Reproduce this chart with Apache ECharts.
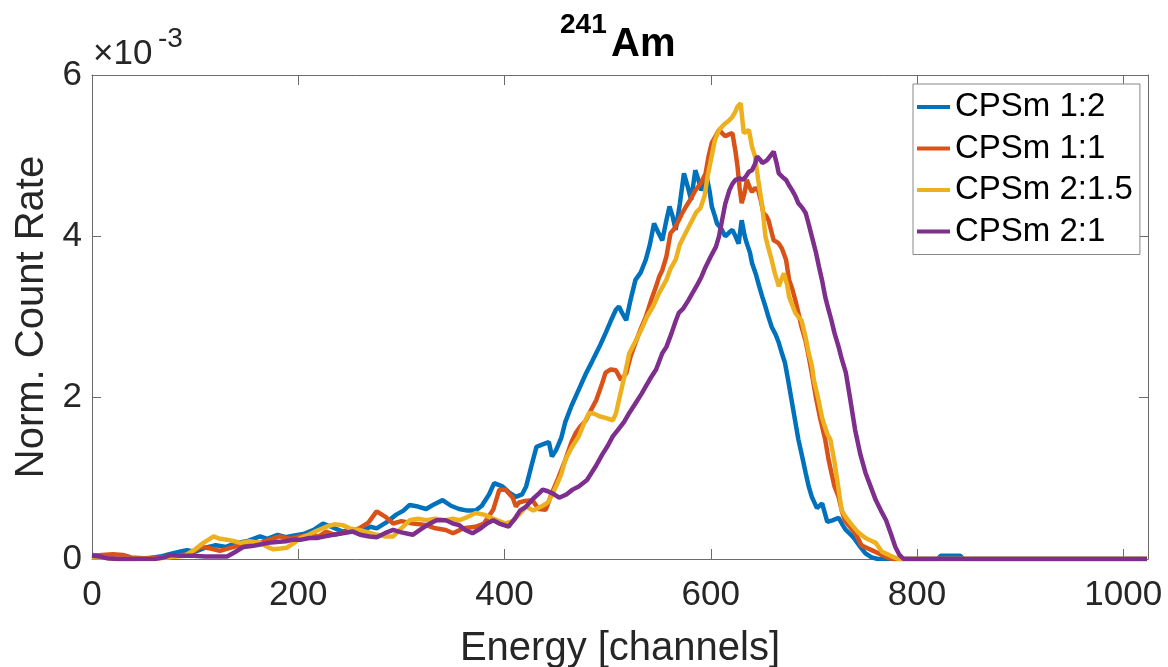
<!DOCTYPE html>
<html>
<head>
<meta charset="utf-8">
<title>241Am</title>
<script src="https://cdn.jsdelivr.net/npm/echarts@6/dist/echarts.min.js"></script>
<style>
  html, body { margin: 0; padding: 0; background: #fff; }
  #chart { width: 1168px; height: 667px; }
</style>
</head>
<body>
<div id="chart"></div>
<script>
// 数值单位: ×10^-3 (norm. count rate), x = channel
const xTicks = [0, 200, 400, 600, 800, 1000]
const yTicks = [0, 2, 4, 6]
const seriesNames = ['CPSm 1:2', 'CPSm 1:1', 'CPSm 2:1.5', 'CPSm 2:1']

const cps12 = [
  [0, 0.05], [8, 0.04], [15, 0.02], [25, 0], [40, 0], [55, 0.01], [66, 0.03], [75, 0.06], [85, 0.09],
  [92, 0.11], [100, 0.09], [110, 0.14], [120, 0.17], [130, 0.15], [140, 0.2], [150, 0.22], [163, 0.28],
  [170, 0.25], [180, 0.3], [188, 0.27], [195, 0.29], [205, 0.31], [215, 0.36], [224, 0.44], [232, 0.4],
  [243, 0.34], [252, 0.37], [262, 0.35], [270, 0.4], [276, 0.38], [285, 0.45], [295, 0.55], [302, 0.6],
  [308, 0.67], [316, 0.65], [324, 0.62], [332, 0.68], [340, 0.73], [348, 0.66], [356, 0.62], [364, 0.6],
  [372, 0.6], [378, 0.66], [385, 0.8], [390, 0.94], [398, 0.9], [405, 0.82], [411, 0.77], [417, 0.8],
  [421, 0.9], [426, 1.15], [431, 1.39], [437, 1.42], [443, 1.45], [446, 1.27], [450, 1.35], [455, 1.5],
  [459, 1.7], [465, 1.9], [472, 2.1], [479, 2.3], [485, 2.45], [492, 2.63], [498, 2.8], [503, 2.95],
  [508, 3.09], [511, 3.13], [514, 3.05], [518, 2.96], [522, 3.2], [527, 3.46], [532, 3.55], [537, 3.71],
  [541, 3.9], [545, 4.16], [549, 4.05], [553, 3.95], [557, 4.2], [560, 4.37], [563, 4.25], [566, 4.08],
  [570, 4.4], [574, 4.78], [578, 4.6], [581, 4.45], [585, 4.82], [588, 4.7], [591, 4.57], [594, 4.65],
  [596, 4.74], [599, 4.55], [601, 4.37], [604, 4.25], [606, 4.16], [610, 4.1], [614, 4.0], [618, 4.05],
  [621, 4.08], [624, 4.0], [627, 3.91], [630, 4.2], [633, 4.0], [635, 3.91], [638, 3.8], [640, 3.67],
  [644, 3.52], [647, 3.38], [650, 3.25], [653, 3.13], [656, 3.0], [659, 2.88], [663, 2.78], [666, 2.68],
  [669, 2.55], [672, 2.43], [675, 2.22], [680, 1.85], [685, 1.48], [689, 1.25], [692, 1.07], [695, 0.9],
  [698, 0.77], [703, 0.63], [708, 0.69], [713, 0.46], [718, 0.48], [724, 0.51], [728, 0.42], [731, 0.36],
  [736, 0.3], [740, 0.24], [745, 0.15], [750, 0.07], [756, 0.02], [762, 0], [820, 0], [823, 0.04],
  [842, 0.04], [845, 0], [1023, 0]
]

const cps11 = [
  [0, 0.04], [10, 0.05], [20, 0.06], [30, 0.05], [38, 0.02], [50, 0.01], [66, 0.02], [80, 0.04], [95, 0.06],
  [105, 0.15], [115, 0.13], [124, 0.1], [135, 0.14], [145, 0.18], [155, 0.2], [163, 0.2], [172, 0.24],
  [182, 0.28], [192, 0.25], [202, 0.28], [212, 0.3], [220, 0.28], [227, 0.34], [235, 0.3], [245, 0.33],
  [259, 0.38], [268, 0.45], [276, 0.59], [285, 0.52], [292, 0.44], [300, 0.47], [311, 0.44], [318, 0.43],
  [324, 0.42], [333, 0.38], [343, 0.36], [350, 0.32], [360, 0.38], [372, 0.4], [380, 0.44], [389, 0.61],
  [395, 0.86], [401, 0.86], [408, 0.76], [411, 0.65], [414, 0.7], [420, 0.72], [427, 0.73], [433, 0.62],
  [440, 0.61], [446, 0.82], [452, 1.0], [459, 1.23], [465, 1.45], [469, 1.56], [474, 1.65], [479, 1.72],
  [484, 1.85], [489, 1.97], [494, 2.15], [498, 2.31], [503, 2.35], [508, 2.34], [513, 2.22], [518, 2.3],
  [522, 2.5], [527, 2.68], [532, 2.85], [537, 3.0], [542, 3.2], [547, 3.38], [550, 3.5], [553, 3.58],
  [557, 3.75], [561, 4.04], [565, 4.1], [569, 4.2], [572, 4.28], [576, 4.37], [580, 4.45], [585, 4.57],
  [590, 4.65], [595, 4.78], [598, 5.0], [601, 5.16], [605, 5.25], [608, 5.32], [611, 5.28], [614, 5.24],
  [617, 5.26], [621, 5.28], [624, 5.05], [626, 4.86], [628, 4.6], [630, 4.41], [633, 4.55], [635, 4.7],
  [638, 4.6], [640, 4.55], [643, 4.6], [646, 4.57], [649, 4.42], [651, 4.29], [654, 4.25], [656, 4.2],
  [659, 4.05], [661, 3.95], [664, 3.93], [666, 3.91], [669, 3.85], [673, 3.71], [676, 3.46], [679, 3.35],
  [682, 3.21], [685, 3.05], [688, 2.88], [692, 2.7], [695, 2.51], [698, 2.3], [702, 2.0], [706, 1.75],
  [711, 1.48], [714, 1.25], [717, 1.07], [720, 0.9], [724, 0.77], [727, 0.6], [730, 0.48], [735, 0.4],
  [740, 0.32], [743, 0.25], [746, 0.17], [751, 0.14], [756, 0.11], [761, 0.08], [766, 0.05], [771, 0.02],
  [776, 0], [1023, 0]
]

const cps215 = [
  [0, 0.02], [10, 0.02], [20, 0], [40, 0], [60, 0], [75, 0.02], [90, 0.04], [100, 0.12], [108, 0.2],
  [113, 0.24], [118, 0.28], [124, 0.25], [131, 0.24], [138, 0.22], [144, 0.2], [153, 0.22], [163, 0.2],
  [170, 0.15], [176, 0.12], [183, 0.13], [189, 0.14], [196, 0.2], [202, 0.26], [210, 0.3], [218, 0.35],
  [227, 0.4], [235, 0.43], [243, 0.42], [250, 0.38], [259, 0.36], [268, 0.33], [276, 0.3], [285, 0.28],
  [292, 0.28], [300, 0.38], [308, 0.48], [316, 0.5], [324, 0.48], [333, 0.5], [343, 0.48], [350, 0.5],
  [356, 0.48], [364, 0.52], [372, 0.57], [380, 0.55], [389, 0.5], [395, 0.47], [401, 0.44], [408, 0.47],
  [414, 0.55], [421, 0.65], [428, 0.6], [437, 0.66], [442, 0.7], [447, 0.82], [450, 0.9], [455, 1.05],
  [459, 1.23], [465, 1.38], [472, 1.52], [477, 1.68], [482, 1.81], [487, 1.8], [492, 1.77], [498, 1.75],
  [505, 1.72], [508, 1.8], [511, 1.97], [516, 2.25], [521, 2.55], [527, 2.7], [534, 2.88], [538, 3.0],
  [544, 3.13], [550, 3.3], [557, 3.46], [561, 3.6], [566, 3.71], [570, 3.9], [574, 4.0], [578, 4.1],
  [582, 4.2], [586, 4.3], [590, 4.35], [594, 4.5], [597, 4.75], [601, 5.0], [604, 5.19], [608, 5.32],
  [611, 5.36], [614, 5.4], [618, 5.44], [621, 5.48], [624, 5.55], [626, 5.61], [629, 5.65], [632, 5.28],
  [635, 5.3], [637, 5.32], [640, 5.11], [643, 4.99], [646, 4.7], [650, 4.37], [653, 4.0], [656, 3.85],
  [659, 3.71], [662, 3.55], [666, 3.38], [668, 3.45], [671, 3.54], [674, 3.4], [676, 3.25], [679, 3.15],
  [682, 3.05], [685, 3.0], [688, 2.96], [692, 2.75], [695, 2.55], [698, 2.4], [700, 2.22], [704, 2.0],
  [708, 1.75], [713, 1.55], [716, 1.48], [720, 1.2], [724, 0.86], [727, 0.6], [732, 0.5], [737, 0.42],
  [743, 0.33], [750, 0.26], [755, 0.23], [760, 0.2], [766, 0.09], [771, 0.06], [776, 0.03], [782, 0],
  [1023, 0]
]

const cps21 = [
  [0, 0.04], [8, 0.03], [15, 0.01], [25, 0], [45, 0], [60, 0], [70, 0.02], [76, 0.05], [85, 0.04],
  [98, 0.04], [110, 0.03], [120, 0.03], [131, 0.03], [138, 0.08], [147, 0.15], [155, 0.16], [163, 0.18],
  [171, 0.2], [179, 0.21], [188, 0.22], [195, 0.24], [203, 0.24], [211, 0.26], [218, 0.26], [226, 0.28],
  [234, 0.3], [243, 0.32], [253, 0.34], [260, 0.3], [269, 0.28], [276, 0.27], [284, 0.32], [292, 0.36],
  [300, 0.33], [311, 0.3], [318, 0.36], [325, 0.42], [334, 0.48], [343, 0.48], [350, 0.44], [356, 0.42],
  [362, 0.36], [369, 0.32], [377, 0.38], [383, 0.44], [389, 0.48], [395, 0.44], [404, 0.4], [410, 0.5],
  [415, 0.6], [421, 0.65], [428, 0.75], [434, 0.82], [437, 0.86], [442, 0.84], [447, 0.81], [453, 0.76],
  [460, 0.8], [466, 0.86], [472, 0.9], [480, 0.98], [488, 1.14], [495, 1.3], [500, 1.4], [505, 1.52],
  [510, 1.6], [516, 1.7], [521, 1.81], [528, 1.95], [533, 2.05], [537, 2.14], [542, 2.25], [547, 2.35],
  [553, 2.55], [557, 2.63], [562, 2.8], [566, 2.95], [569, 3.05], [573, 3.1], [578, 3.2], [582, 3.29],
  [587, 3.4], [591, 3.5], [595, 3.62], [600, 3.75], [605, 3.87], [608, 4.0], [611, 4.2], [614, 4.4],
  [618, 4.57], [621, 4.65], [624, 4.7], [628, 4.72], [631, 4.7], [634, 4.74], [637, 4.8], [640, 4.82],
  [643, 4.9], [645, 4.99], [648, 4.95], [650, 4.91], [653, 4.93], [655, 4.95], [658, 5.0], [661, 5.05],
  [664, 4.9], [666, 4.78], [670, 4.73], [673, 4.7], [676, 4.63], [679, 4.57], [682, 4.5], [685, 4.41],
  [689, 4.35], [692, 4.29], [695, 4.15], [698, 4.0], [702, 3.8], [705, 3.62], [708, 3.45], [711, 3.25],
  [714, 3.1], [717, 2.96], [720, 2.8], [724, 2.63], [727, 2.48], [731, 2.31], [735, 2.0], [740, 1.6],
  [745, 1.3], [750, 1.07], [755, 0.9], [760, 0.73], [765, 0.6], [770, 0.48], [775, 0.3], [779, 0.15],
  [783, 0.05], [787, 0], [1023, 0]
]

const seriesData = [cps12, cps11, cps215, cps21]
const colors = ['#0072BD', '#D95319', '#EDB120', '#7E2F8E']

const FONT = '"Liberation Sans", Arial, Helvetica, sans-serif'
const AXIS_COLOR = '#6b6b6b'
const TEXT_COLOR = '#262626'

function renderChart() {
  const chart = echarts.init(document.getElementById('chart'))

  // 轴线 / 刻度样式（MATLAB box on, 刻度朝内）
  const axisCommon = {
    axisLine: { show: true, onZero: false, lineStyle: { color: AXIS_COLOR, width: 1 } },
    axisTick: { show: true, inside: true, length: 10, lineStyle: { color: AXIS_COLOR, width: 1 } },
    splitLine: { show: false }
  }

  const series = seriesData.map((data, i) => {
    return {
      name: seriesNames[i],
      type: 'line',
      data: data,
      showSymbol: false,
      symbol: 'none',
      lineStyle: { width: 4.5, color: colors[i] },
      itemStyle: { color: colors[i] },
      z: 2 + i
    }
  })

  const options = {
    animation: false,
    color: colors,
    grid: {
      left: 92,
      right: 20,
      top: 75,
      bottom: 108,
      containLabel: false,
      outerBoundsMode: 'none'
    },
    legend: {
      orient: 'vertical',
      left: 913,
      top: 84,
      padding: [5, 7, 5, 4],
      itemGap: 5.5,
      itemWidth: 33,
      itemHeight: 4,
      icon: 'rect',
      selectedMode: false,
      backgroundColor: '#fff',
      borderColor: '#888',
      borderWidth: 1,
      textStyle: { color: '#000', fontSize: 33, fontFamily: FONT, lineHeight: 36 },
      data: seriesNames
    },
    xAxis: [
      {
        type: 'value',
        min: 0,
        max: 1024,
        interval: 200,
        name: 'Energy [channels]',
        nameLocation: 'middle',
        nameGap: 70,
        nameTextStyle: { color: TEXT_COLOR, fontSize: 40, fontFamily: FONT },
        axisLabel: {
          color: TEXT_COLOR,
          fontSize: 35,
          fontFamily: FONT,
          margin: 19,
          formatter: (v) => (xTicks.includes(v) ? String(v) : '')
        },
        ...axisCommon
      },
      {
        type: 'value',
        position: 'top',
        min: 0,
        max: 1024,
        interval: 200,
        axisLabel: { show: false },
        ...axisCommon
      }
    ],
    yAxis: [
      {
        type: 'value',
        min: 0,
        max: 6,
        interval: 2,
        name: 'Norm. Count Rate',
        nameLocation: 'middle',
        nameGap: 35,
        nameTextStyle: { color: TEXT_COLOR, fontSize: 40, fontFamily: FONT },
        axisLabel: {
          color: TEXT_COLOR,
          fontSize: 35,
          fontFamily: FONT,
          margin: 10,
          formatter: (v) => (yTicks.includes(v) ? String(v) : '')
        },
        ...axisCommon,
        axisTick: { show: true, inside: true, length: 9, lineStyle: { color: AXIS_COLOR, width: 1 } }
      },
      {
        type: 'value',
        position: 'right',
        min: 0,
        max: 6,
        interval: 2,
        axisLabel: { show: false },
        ...axisCommon,
        axisTick: { show: true, inside: true, length: 9, lineStyle: { color: AXIS_COLOR, width: 1 } }
      }
    ],
    // 标题 241Am 和 ×10^-3 指数
    graphic: [
      { type: 'text', left: 560, top: 11, style: { text: '241', font: 'bold 28px ' + FONT, fill: '#000' } },
      { type: 'text', left: 611, top: 25, style: { text: 'Am', font: 'bold 40px ' + FONT, fill: '#000' } },
      { type: 'text', left: 93, top: 37, style: { text: '×10', font: '35px ' + FONT, fill: TEXT_COLOR } },
      { type: 'text', left: 158, top: 25, style: { text: '-3', font: '28px ' + FONT, fill: TEXT_COLOR } }
    ],
    series: series
  }

  chart.setOption(options)
  window.addEventListener('resize', function () {
    chart.resize()
  })
}

renderChart()
</script>
</body>
</html>
